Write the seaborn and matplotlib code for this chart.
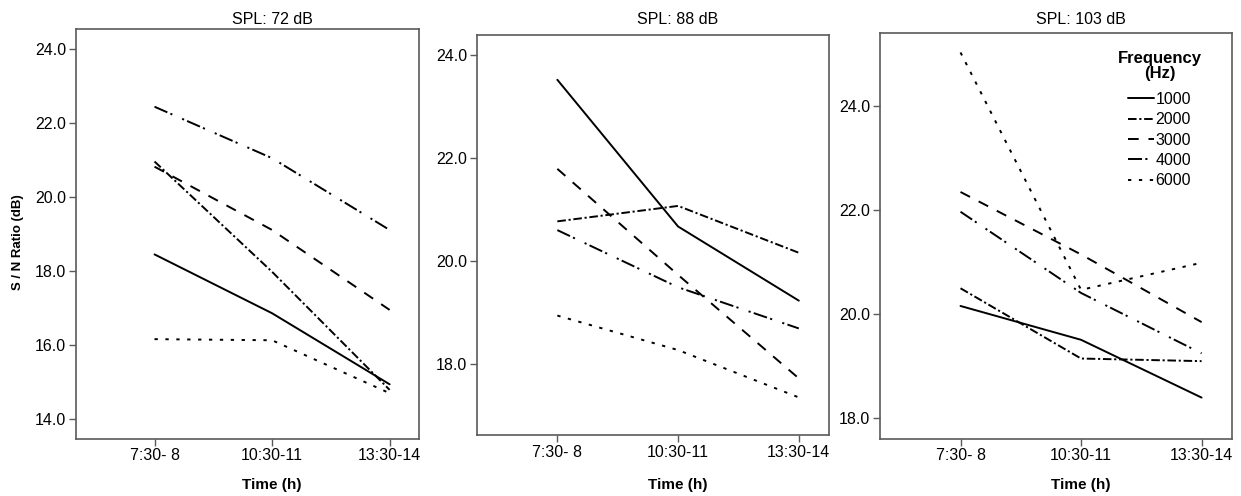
import numpy as np
import pandas as pd
import seaborn as sns
import matplotlib
matplotlib.use('Agg')
import matplotlib.pyplot as plt
from matplotlib.transforms import blended_transform_factory

# Data
TIMES = ['7:30- 8', '10:30-11', '13:30-14']
FREQS = ['1000', '2000', '3000', '4000', '6000']
SPL_LEVELS = ['72', '88', '103']

spl72_1000 = [18.44, 16.85, 14.93]
spl72_2000 = [20.95, 17.97, 14.78]
spl72_3000 = [20.81, 19.10, 16.94]
spl72_4000 = [22.43, 21.04, 19.10]
spl72_6000 = [16.15, 16.12, 14.69]

spl88_1000 = [23.52, 20.67, 19.23]
spl88_2000 = [20.77, 21.07, 20.16]
spl88_3000 = [21.79, 19.73, 17.72]
spl88_4000 = [20.60, 19.49, 18.69]
spl88_6000 = [18.94, 18.27, 17.35]

spl103_1000 = [20.16, 19.51, 18.40]
spl103_2000 = [20.50, 19.15, 19.10]
spl103_3000 = [22.35, 21.15, 19.85]
spl103_4000 = [21.97, 20.41, 19.25]
spl103_6000 = [25.03, 20.47, 20.99]

SERIES = {
    '72': [spl72_1000, spl72_2000, spl72_3000, spl72_4000, spl72_6000],
    '88': [spl88_1000, spl88_2000, spl88_3000, spl88_4000, spl88_6000],
    '103': [spl103_1000, spl103_2000, spl103_3000, spl103_4000, spl103_6000],
}

YLIMS = {'72': (13.46, 24.53), '88': (16.62, 24.39), '103': (17.61, 25.41)}
YTICKS = {'72': [14, 16, 18, 20, 22, 24], '88': [18, 20, 22, 24], '103': [18, 20, 22, 24]}

# axes boxes in pixels (left, top, right, bottom)
W, H = 1241, 496
BOXES = {'72': (76, 29, 419, 438.7), '88': (476.7, 35, 829, 435), '103': (880, 32.7, 1231.7, 438.7)}

DASHES = {
    '1000': '',
    '2000': (4.4, 1.4, 1.1, 1.4),
    '3000': (5.5, 5.0),
    '4000': (7.2, 1.7, 1.1, 5.5, 1.1, 1.7),
    '6000': (1.7, 3.9),
}


def long_table(spl):
    rows = []
    for freq, vals in zip(FREQS, SERIES[spl]):
        for i, v in enumerate(vals):
            rows.append({'time': i, 'snr': v, 'freq': freq})
    return pd.DataFrame(rows)


sns.set_style('ticks', {'text.color': 'black', 'xtick.color': 'black',
                        'ytick.color': 'black', 'axes.labelcolor': 'black'})
plt.rcParams['font.family'] = ['Liberation Sans', 'DejaVu Sans']

fig = plt.figure(figsize=(W / 100, H / 100), dpi=100)
frame_col = '#5a5a5a'

for spl in SPL_LEVELS:
    l, t, r, b = BOXES[spl]
    ax = fig.add_axes([l / W, 1 - b / H, (r - l) / W, (b - t) / H])
    df = long_table(spl)
    sns.lineplot(data=df, x='time', y='snr', style='freq', style_order=FREQS,
                 dashes=DASHES, color='black', linewidth=1.4, ax=ax,
                 legend=(spl == '103'))
    xlo, xhi = -0.668, 2.25
    ax.set_xlim(xlo, xhi)
    ax.set_ylim(*YLIMS[spl])
    ax.set_xticks(range(len(TIMES)))
    ax.set_xticklabels(TIMES, fontsize=11.5)
    ax.set_yticks(YTICKS[spl])
    ax.set_yticklabels([f'{v:.1f}' for v in YTICKS[spl]], fontsize=11.5)
    ax.tick_params(length=5, width=1, color=frame_col, labelcolor='black', pad=2)
    for s in ax.spines.values():
        s.set_color(frame_col)
        s.set_linewidth(1.2)
    ax.set_xlabel('')
    ax.set_ylabel('')

    trans = blended_transform_factory(ax.transData, fig.transFigure)
    ax.text(1, 1 - 20 / H, f'SPL: {spl} dB', transform=trans, ha='center',
            va='center', fontsize=11.5, color='black')
    ax.text(1, 1 - 485 / H, 'Time (h)', transform=trans, ha='center',
            va='center', fontsize=11, fontweight='bold', color='black')

    if spl == '72':
        fig.text(18 / W, 1 - 242 / H, 'S / N Ratio (dB)', rotation=90,
                 ha='center', va='center', fontsize=9.5, fontweight='bold',
                 color='black')

    if spl == '103':
        h, lab = ax.get_legend_handles_labels()
        leg = ax.legend(h, lab, title='Frequency\n(Hz)', frameon=False,
                        loc='upper right', bbox_to_anchor=(0.915, 0.955),
                        borderaxespad=0, borderpad=0, fontsize=11.5,
                        title_fontsize=12, handlelength=1.6,
                        handletextpad=0.1, labelspacing=0.33,
                        alignment='center')
        leg.get_title().set_fontweight('bold')
        leg.get_title().set_multialignment('center')
        leg.get_title().set_linespacing(1.0)
        # a little more room between the title and the entries
        leg._legend_box.sep = 8

fig.savefig('out.png', dpi=100)
